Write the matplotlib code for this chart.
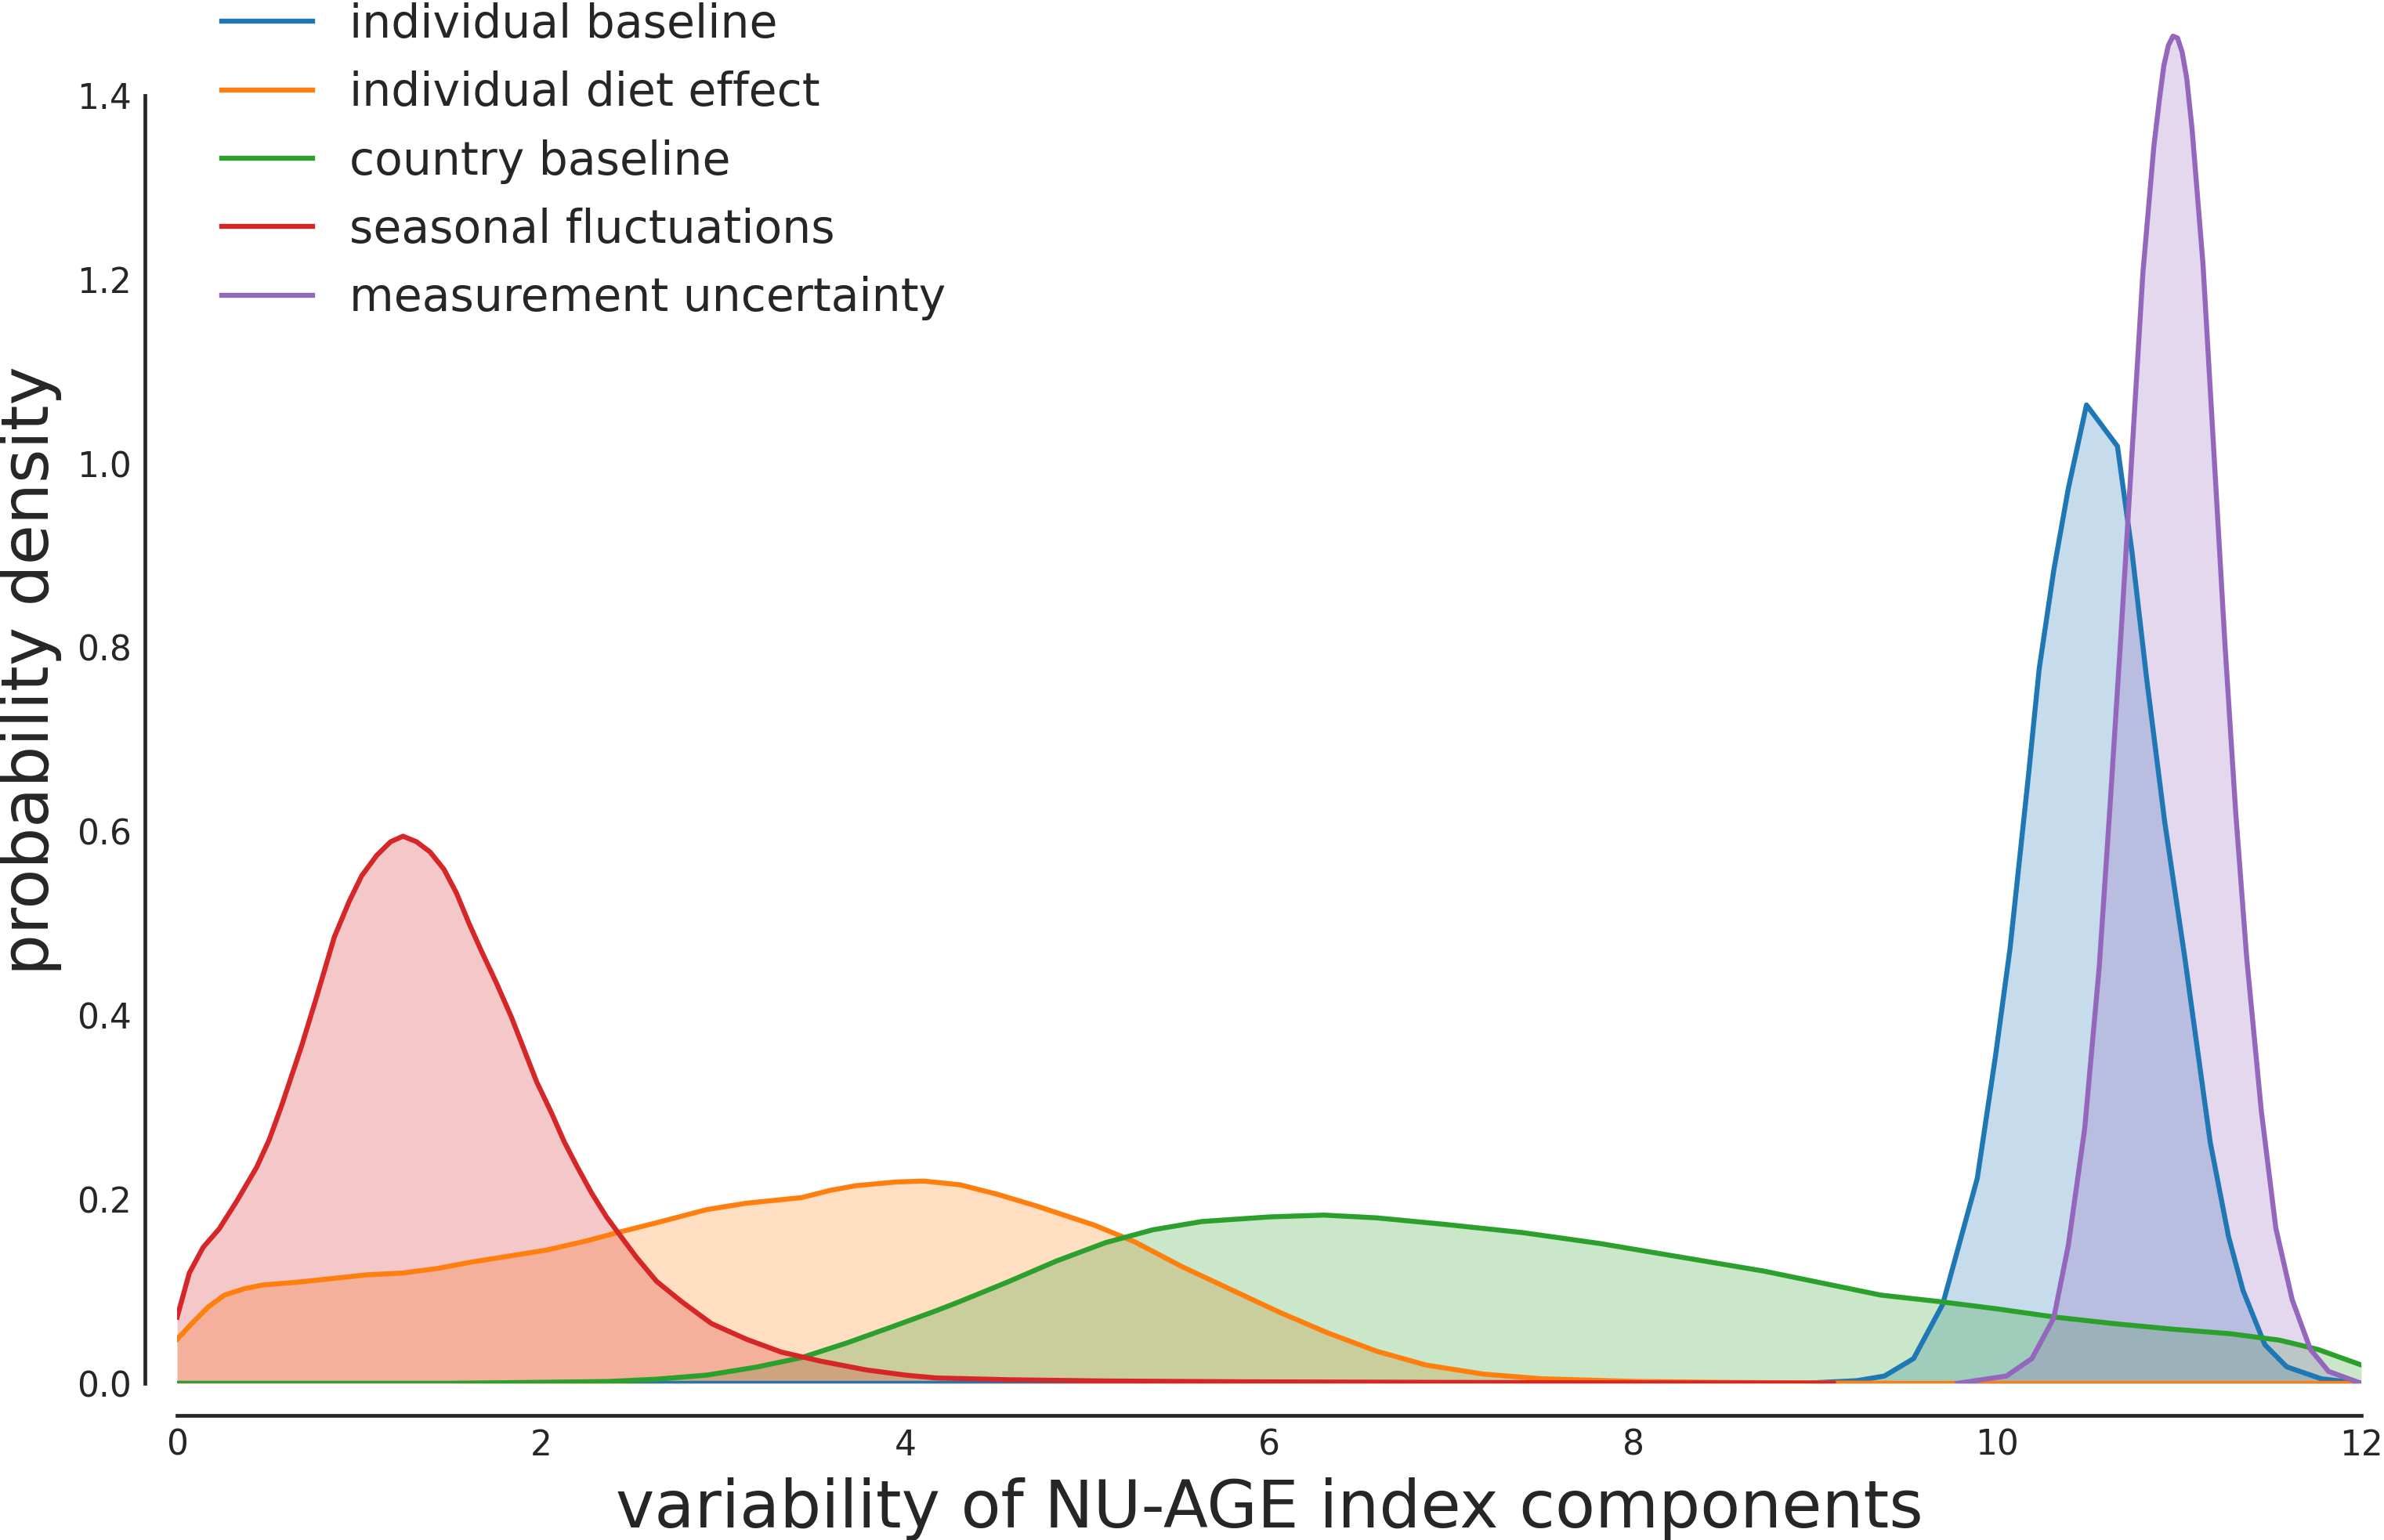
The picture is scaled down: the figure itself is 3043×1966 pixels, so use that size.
import numpy as np
import matplotlib
matplotlib.use("Agg")
import matplotlib.pyplot as plt

labels = ["individual baseline", "individual diet effect", "country baseline",
          "seasonal fluctuations", "measurement uncertainty"]
colors = ["#1f77b4", "#ff7f0e", "#2ca02c", "#d62728", "#9467bd"]

# individual baseline
base_x = [0, 8.93, 9.23, 9.38, 9.54, 9.70, 9.89, 9.99, 10.07, 10.17, 10.23, 10.31,
          10.39, 10.49, 10.66, 10.74, 10.82, 10.92, 11.03, 11.17, 11.27, 11.35,
          11.47, 11.59, 11.78, 12.0]
base_y = [0, 0, 0.003, 0.008, 0.027, 0.086, 0.223, 0.356, 0.473, 0.659, 0.777, 0.884,
          0.973, 1.064, 1.019, 0.904, 0.767, 0.610, 0.463, 0.262, 0.160, 0.101,
          0.042, 0.018, 0.005, 0]

# individual diet effect
diet_x = [0, 0.08, 0.17, 0.26, 0.37, 0.47, 0.66, 0.85, 1.04, 1.24, 1.43, 1.62, 1.81,
          2.03, 2.25, 2.44, 2.66, 2.91, 3.13, 3.43, 3.59, 3.73, 3.95, 4.10, 4.30,
          4.50, 4.72, 5.04, 5.26, 5.52, 5.79, 6.06, 6.32, 6.59, 6.86, 7.18, 7.50,
          8.03, 8.56, 9.5, 12.0]
diet_y = [0.048, 0.065, 0.083, 0.096, 0.103, 0.107, 0.110, 0.114, 0.118, 0.120, 0.125,
          0.132, 0.138, 0.145, 0.155, 0.165, 0.176, 0.189, 0.196, 0.202, 0.210,
          0.215, 0.219, 0.220, 0.216, 0.206, 0.193, 0.172, 0.154, 0.127, 0.102,
          0.077, 0.055, 0.035, 0.020, 0.010, 0.005, 0.002, 0.001, 0, 0]

# country baseline
country_x = [0, 1.5, 2.36, 2.63, 2.91, 3.18, 3.43, 3.68, 3.92, 4.17, 4.30, 4.56, 4.83,
             5.10, 5.36, 5.63, 6.00, 6.30, 6.59, 6.96, 7.39, 7.82, 8.30, 8.72, 9.04,
             9.36, 9.68, 10.00, 10.32, 10.64, 10.96, 11.28, 11.55, 11.76, 12.0]
country_y = [0, 0, 0.002, 0.0045, 0.009, 0.0176, 0.028, 0.044, 0.061, 0.079, 0.089,
             0.110, 0.133, 0.153, 0.167, 0.176, 0.181, 0.183, 0.180, 0.173, 0.164,
             0.152, 0.136, 0.122, 0.109, 0.096, 0.089, 0.081, 0.072, 0.065, 0.059,
             0.054, 0.047, 0.037, 0.020]

# seasonal fluctuations
season_x = [0, 0.067, 0.143, 0.231, 0.327, 0.437, 0.506, 0.574, 0.684, 0.766, 0.863,
            0.945, 1.014, 1.096, 1.173, 1.241, 1.315, 1.389, 1.466, 1.535, 1.604,
            1.672, 1.755, 1.837, 1.906, 1.975, 2.057, 2.126, 2.194, 2.277, 2.359,
            2.441, 2.524, 2.634, 2.771, 2.936, 3.128, 3.32, 3.54, 3.787, 4.006,
            4.17, 4.56, 5.1, 5.89, 7.5, 9.1]
season_y = [0.072, 0.120, 0.148, 0.168, 0.198, 0.235, 0.265, 0.302, 0.367, 0.420,
            0.485, 0.524, 0.552, 0.574, 0.589, 0.595, 0.589, 0.578, 0.559, 0.533,
            0.500, 0.470, 0.435, 0.398, 0.363, 0.328, 0.294, 0.263, 0.237, 0.207,
            0.181, 0.159, 0.137, 0.111, 0.089, 0.065, 0.048, 0.034, 0.024, 0.0146,
            0.0089, 0.0059, 0.004, 0.0026, 0.0017, 0.0008, 0.0003]

# measurement uncertainty
meas_x = [9.78, 10.05, 10.19, 10.31, 10.39, 10.48, 10.56, 10.62, 10.68, 10.74, 10.80,
          10.86, 10.89, 10.915, 10.94, 10.965, 10.99, 11.015, 11.04, 11.07, 11.13,
          11.19, 11.25, 11.31, 11.37, 11.45, 11.53, 11.62, 11.72, 11.82, 12.0]
meas_y = [0, 0.008, 0.027, 0.071, 0.150, 0.277, 0.453, 0.630, 0.816, 1.012, 1.208,
          1.345, 1.395, 1.433, 1.455, 1.465, 1.463, 1.448, 1.420, 1.364, 1.217,
          1.012, 0.806, 0.620, 0.463, 0.297, 0.169, 0.091, 0.037, 0.013, 0]

xs = [base_x, diet_x, country_x, season_x, meas_x]
ys = [base_y, diet_y, country_y, season_y, meas_y]

ink = "#262626"
plt.rcParams["font.family"] = ["DejaVu Sans"]
plt.rcParams["text.color"] = ink
plt.rcParams["axes.labelcolor"] = ink
plt.rcParams["xtick.color"] = ink
plt.rcParams["ytick.color"] = ink

fig = plt.figure(figsize=(3043 / 200, 1966 / 200), dpi=200)
ax = fig.add_axes([0.0743, 0.1017, 0.9162, 0.9256])

for x, y, c, lab in zip(xs, ys, colors, labels):
    ax.plot(x, y, color=c, lw=2.3, label=lab, solid_joinstyle="round")
    ax.fill_between(x, 0, y, color=c, alpha=0.25, lw=0)

ax.set_xlim(0, 12)
ax.set_ylim(0, 1.55)
ax.set_xticks(np.arange(0, 13, 2))
ax.set_yticks(np.arange(0, 1.41, 0.2))
ax.set_yticklabels(["%.1f" % v for v in np.arange(0, 1.41, 0.2)])
ax.tick_params(length=0, pad=6, labelsize=15.8)

for side in ["top", "right"]:
    ax.spines[side].set_visible(False)
for side in ["left", "bottom"]:
    ax.spines[side].set_position(("outward", 14.8))
    ax.spines[side].set_color(ink)
    ax.spines[side].set_linewidth(1.7)
ax.spines["left"].set_bounds(0, 1.4)
ax.spines["bottom"].set_bounds(0, 12)

ax.set_xlabel("variability of NU-AGE index components", fontsize=30, labelpad=7)
ax.set_ylabel("probability density", fontsize=30, labelpad=7)

leg = ax.legend(loc="upper left", frameon=False, fontsize=21, labelspacing=0.52,
                borderaxespad=0.57)

fig.savefig("out.png", dpi=200, facecolor="white")
